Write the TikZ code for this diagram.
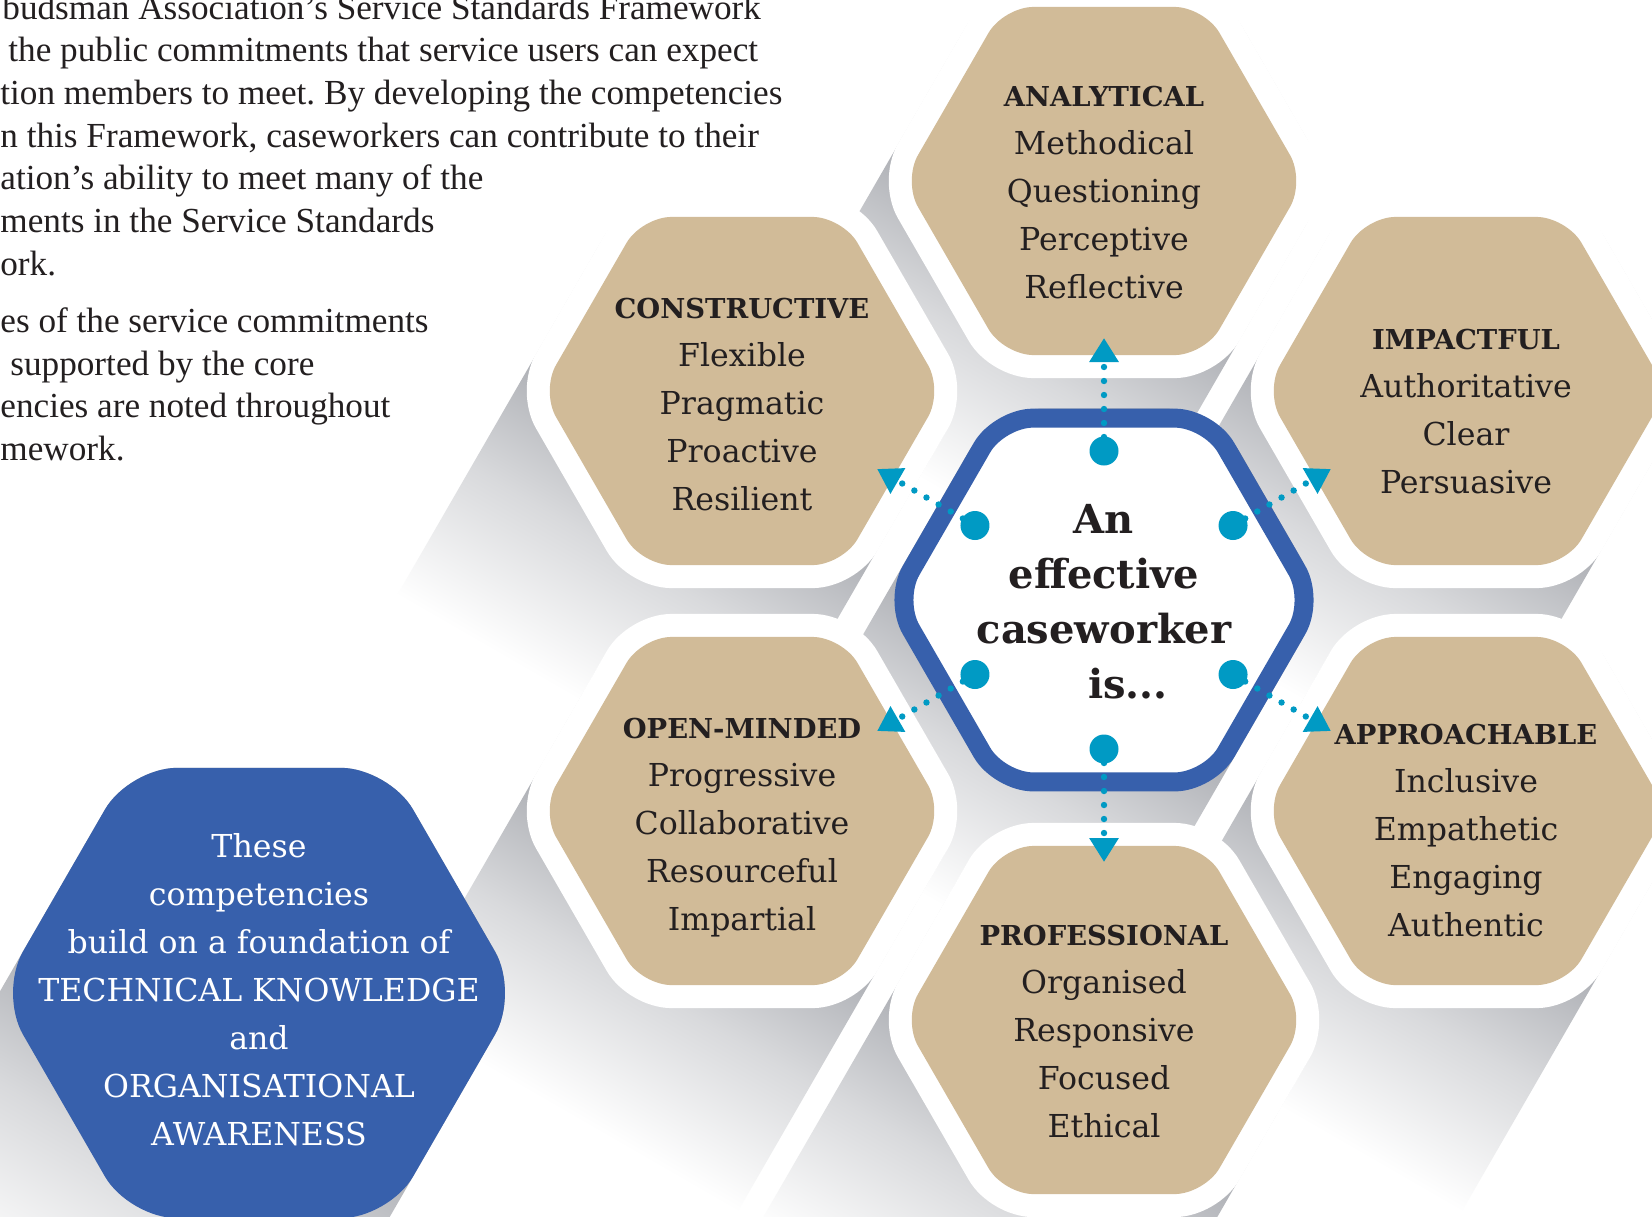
\documentclass[tikz,border=0pt]{standalone}
\usepackage{fontspec}
\setmainfont{DejaVu Serif}
\newfontfamily\introfont{Liberation Serif}
\usetikzlibrary{shapes.geometric,arrows.meta,calc,positioning}

\definecolor{hextan}{RGB}{209,187,152}
\definecolor{ringblue}{RGB}{55,96,172}
\definecolor{dotteal}{RGB}{0,154,196}
\definecolor{inkdark}{RGB}{35,31,32}
\definecolor{shadowgrey}{RGB}{178,180,185}

\pgfdeclareverticalshading{shadowramp}{100bp}{color(0bp)=(white); color(33bp)=(white);
	color(45bp)=(shadowgrey!50!white); color(54bp)=(shadowgrey); color(100bp)=(shadowgrey)}

\newcommand{\headfont}{\bfseries\fontsize{13.7}{24}\selectfont}

\tikzset{
	hexshape/.style={regular polygon, regular polygon sides=6, inner sep=0pt, outer sep=0pt},
	tanhex/.style={hexshape, minimum size=201pt, rounded corners=15pt, fill=hextan,
		preaction={draw=white, line width=23pt}},
	ringhex/.style={hexshape, minimum size=210pt, rounded corners=17pt, fill=white,
		draw=ringblue, line width=9.5pt},
	basehex/.style={hexshape, minimum size=260pt, rounded corners=24pt, fill=ringblue},
	longshadow/.style={shading=shadowramp, shading angle=-30, rounded corners=24pt},
	hextext/.style={align=center, inner sep=0pt, text=inkdark, font=\fontsize{15.8}{24}\selectfont},
	tealdot/.style={circle, fill=dotteal, minimum size=14.5pt, inner sep=0pt},
	dotlink/.style={dotteal, line width=3.2pt, line cap=round, dash pattern=on 0pt off 7pt,
		-{Triangle[length=12pt, width=14pt]}},
}

\begin{document}
\begin{tikzpicture}[x=0.5pt, y=0.5pt]
	\useasboundingbox (0,0) rectangle (1652,-1216);
	\fill[white] (0,0) rectangle (1652,-1216);

	% intro text, cut off by the left margin
	\foreach \xx/\yy/\ptext [count=\i] in {
		2/19/{budsman Association’s Service Standards Framework},
		8/61/{the public commitments that service users can expect},
		0/104/{tion members to meet. By developing the competencies},
		0/147/{n this Framework, caseworkers can contribute to their},
		0/189/{ation’s ability to meet many of the},
		0/232/{ments in the Service Standards},
		0/275/{ork.},
		0/332/{es of the service commitments},
		10/375/{supported by the core},
		0/417/{encies are noted throughout},
		0/460/{mework.}}
		\node[anchor=base west, inner sep=0pt, text=inkdark,
			font=\introfont\fontsize{17.6}{21.3}\selectfont\frenchspacing] (intro\i) at (\xx,-\yy) {\ptext};

	% hexagon centres
	\coordinate (c-mid) at (1104,-600);
	\coordinate (c-ana) at (1104,-181);
	\coordinate (c-con) at (742,-391);
	\coordinate (c-imp) at (1466,-391);
	\coordinate (c-opm) at (742,-811);
	\coordinate (c-app) at (1466,-811);
	\coordinate (c-pro) at (1104,-1020);
	\coordinate (c-base) at (259,-993);

	% long shadows to the lower left
	\begin{scope}[blend mode=multiply]
	\foreach \c/\r in {c-ana/227,c-con/227,c-imp/227,c-opm/227,c-app/227,c-pro/227,c-mid/221,c-base/260}
		\shade[longshadow] ($(\c)+(0:\r)$) -- ($(\c)+(60:\r)$) -- ($(\c)+(120:\r)$)
			-- ($(\c)+(180:\r)+(240:280)$) -- ($(\c)+(240:\r)+(240:280)$)
			-- ($(\c)+(300:\r)+(240:280)$) -- cycle;
	\end{scope}

	% hexagons
	\node[ringhex] (mid) at (c-mid) {};
	\node[tanhex] (analytical) at (c-ana) {};
	\node[tanhex] (constructive) at (c-con) {};
	\node[tanhex] (impactful) at (c-imp) {};
	\node[tanhex] (openminded) at (c-opm) {};
	\node[tanhex] (approachable) at (c-app) {};
	\node[tanhex] (professional) at (c-pro) {};
	\node[basehex] (foundation) at (c-base) {};

	% texts
	\node[hextext, yshift=-6pt] (analytical-t) at (analytical)
		{{\headfont ANALYTICAL}\\Methodical\\Questioning\\Perceptive\\Reflective};
	\node[hextext, yshift=-7pt] (constructive-t) at (constructive)
		{{\headfont CONSTRUCTIVE}\\Flexible\\Pragmatic\\Proactive\\Resilient};
	\node[hextext, yshift=-10.5pt] (impactful-t) at (impactful)
		{{\headfont IMPACTFUL}\\Authoritative\\Clear\\Persuasive};
	\node[hextext, yshift=-8.5pt] (openminded-t) at (openminded)
		{{\headfont OPEN-MINDED}\\Progressive\\Collaborative\\Resourceful\\Impartial};
	\node[hextext, yshift=-10pt] (approachable-t) at (approachable)
		{{\headfont APPROACHABLE}\\Inclusive\\Empathetic\\Engaging\\Authentic};
	\node[hextext, yshift=-6pt] (professional-t) at (professional)
		{{\headfont PROFESSIONAL}\\Organised\\Responsive\\Focused\\Ethical};
	\node[align=center, inner sep=0pt, text=inkdark, font=\bfseries\fontsize{20}{27.5}\selectfont,
		yshift=-1pt] (mid-t) at (mid) {An\\effective\\caseworker\\\hspace*{24pt}is...};
	\node[hextext, text=white, yshift=1.5pt] (foundation-t) at (foundation)
		{These\\competencies\\build on a foundation of\\TECHNICAL KNOWLEDGE\\and\\ORGANISATIONAL\\AWARENESS};

	% dotted links from the centre
	\foreach \a [count=\i] in {90,150,210,270,330,30}{
		\node[tealdot] (dot\i) at ($(mid)+(\a:149)$) {};
		\coordinate (tip\i) at ($(mid)+(\a:262)$);
		\draw[dotlink] (dot\i.center) -- (tip\i);
	}
\end{tikzpicture}
\end{document}
